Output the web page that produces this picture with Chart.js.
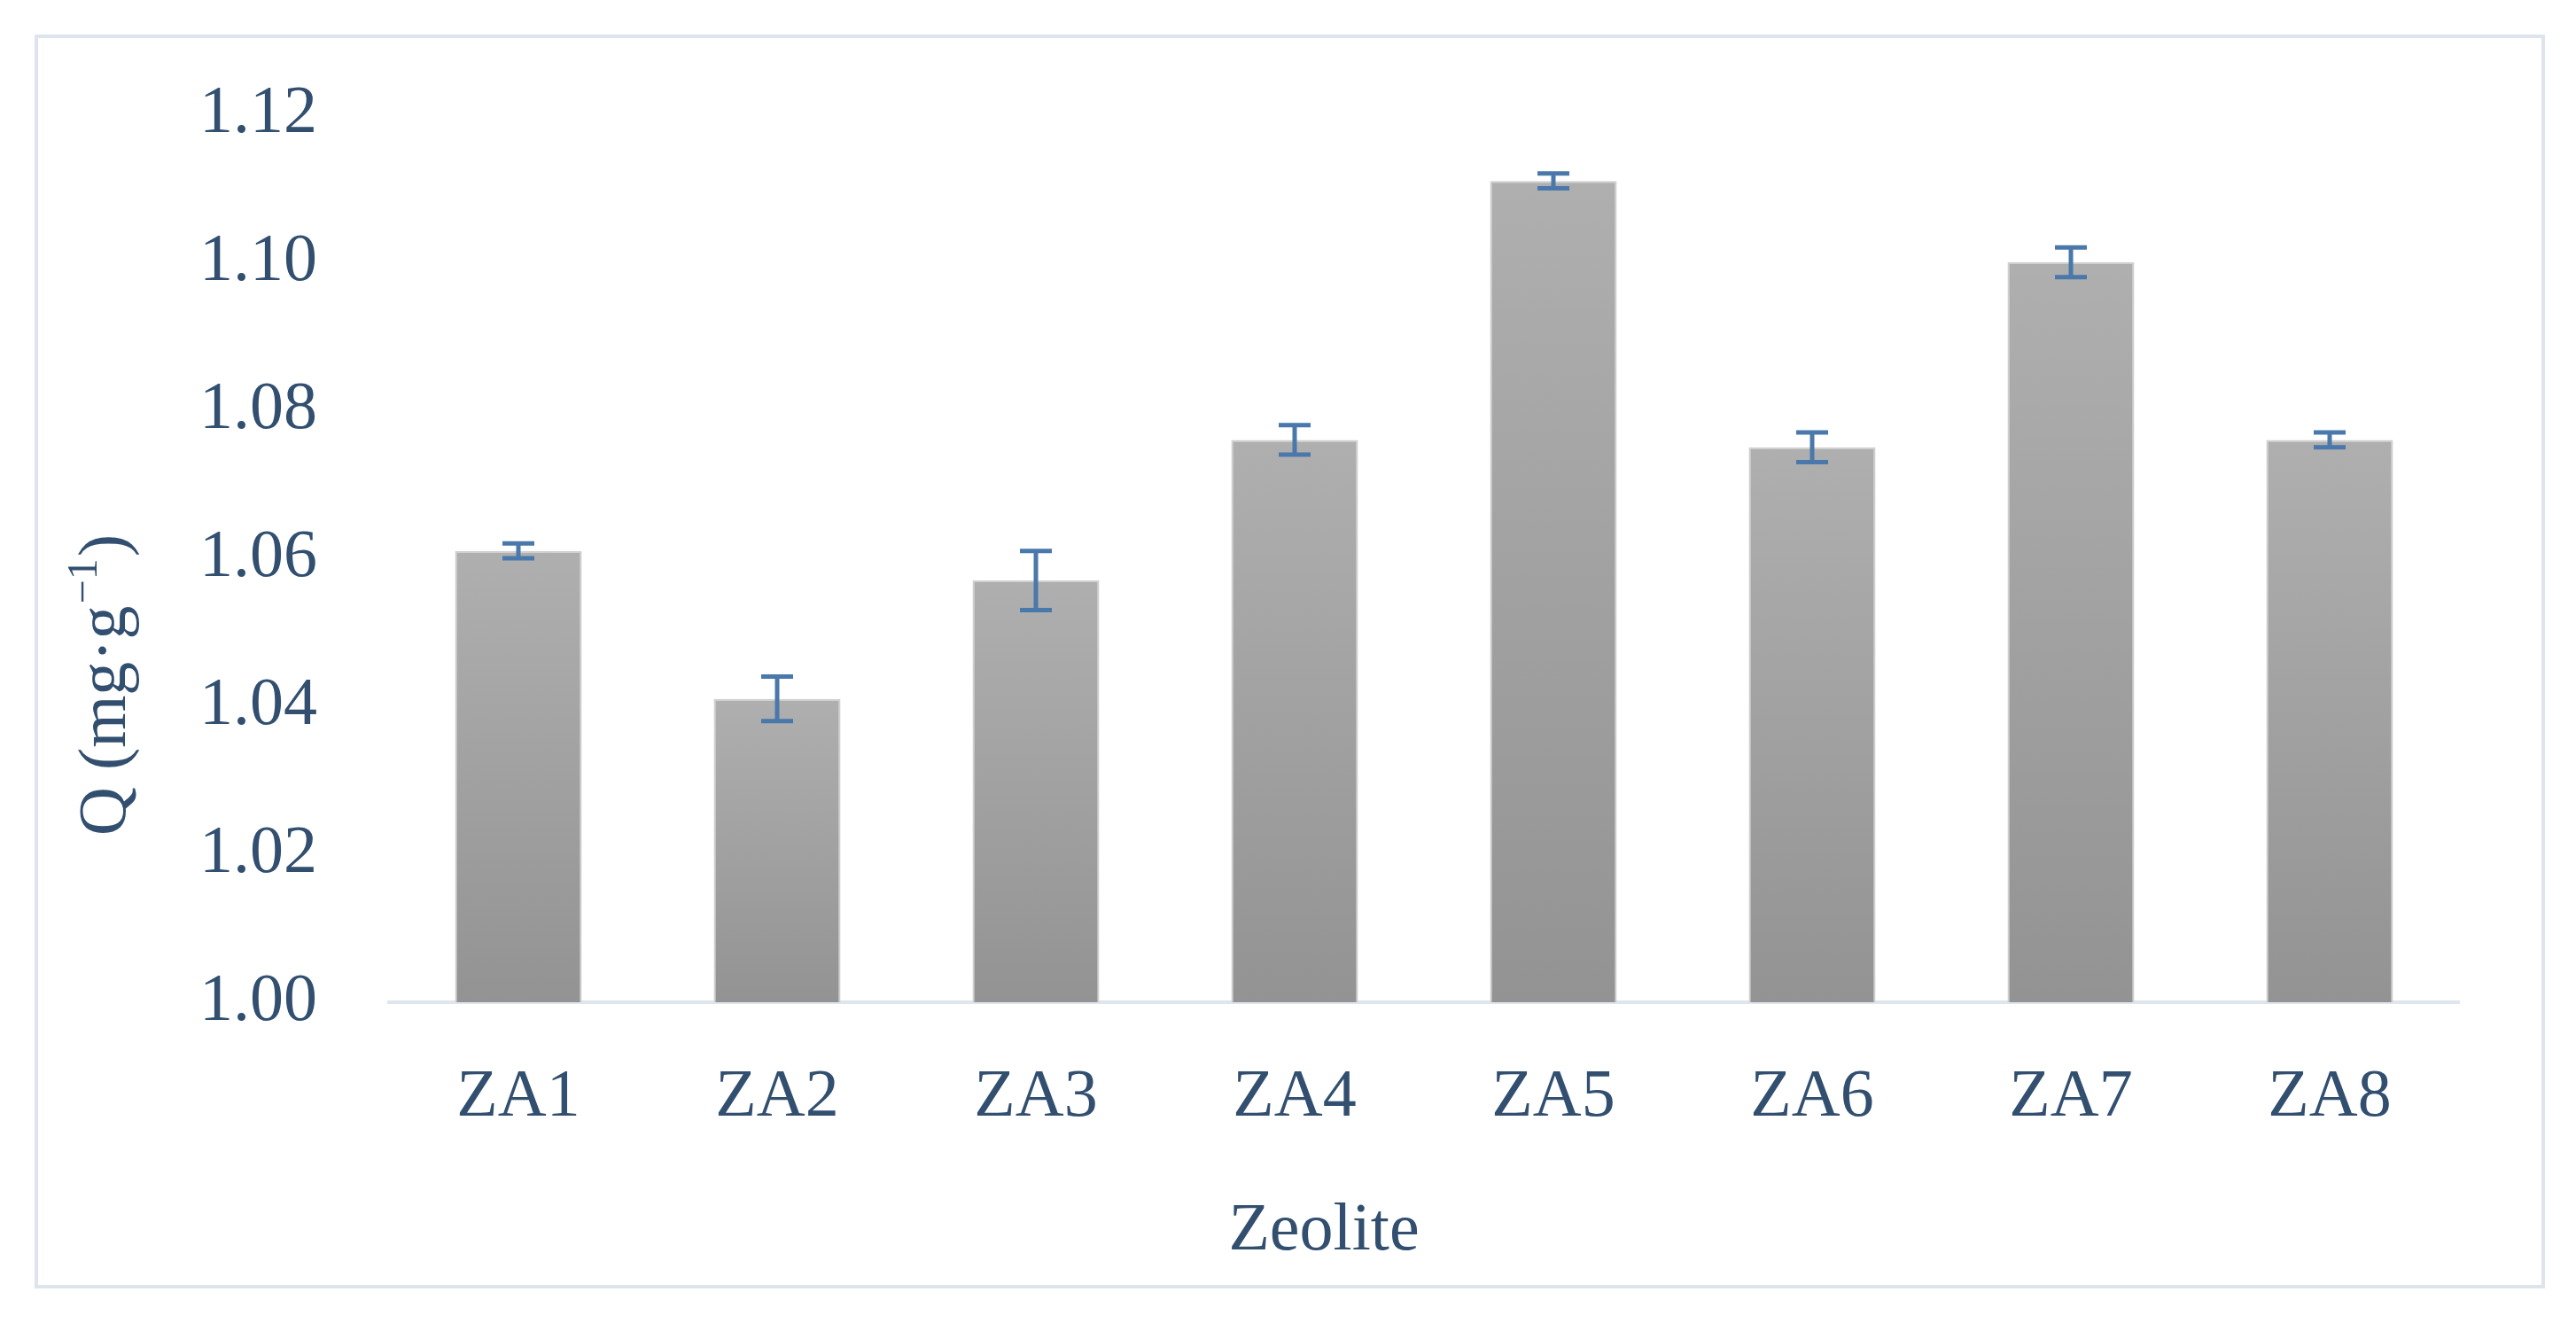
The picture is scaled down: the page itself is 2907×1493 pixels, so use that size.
<!DOCTYPE html>
<html>
<head>
<meta charset="utf-8">
<title>Zeolite Q</title>
<script src="https://cdn.jsdelivr.net/npm/chart.js@4.4.1/dist/chart.umd.min.js"></script>
<style>
	body { margin: 0; background: #ffffff; }
	#mycanvas { display: block; }
</style>
</head>
<body>
<canvas id="mycanvas" width="2907" height="1493"></canvas>
<script>
// data
var zeolites = ['ZA1', 'ZA2', 'ZA3', 'ZA4', 'ZA5', 'ZA6', 'ZA7', 'ZA8'];
var qValues = [1.061, 1.041, 1.057, 1.076, 1.111, 1.075, 1.100, 1.076];
var qErrors = [0.001, 0.003, 0.004, 0.002, 0.001, 0.002, 0.002, 0.001];
var yMin = 1.00;
var yMax = 1.12;
var yStep = 0.02;

var textColor = '#324f70';
var errColor = '#4a78aa';
var fontFamily = '"Liberation Serif", "Times New Roman", serif';

function barFill(context) {
	var chart = context.chart;
	var area = chart.chartArea;
	if (!area || context.type !== 'data') {
		return '#a0a0a0';
	}
	var top = chart.scales.y.getPixelForValue(qValues[context.dataIndex]);
	var g = chart.ctx.createLinearGradient(0, top, 0, area.bottom);
	g.addColorStop(0, '#afafaf');
	g.addColorStop(1, '#939393');
	return g;
}

var frame = {
	id: 'frame',
	beforeDraw: function(chart) {
		var ctx = chart.ctx;
		ctx.save();
		ctx.fillStyle = '#ffffff';
		ctx.fillRect(0, 0, chart.width, chart.height);
		ctx.strokeStyle = '#dde4ec';
		ctx.lineWidth = 4;
		ctx.strokeRect(41, 41, 2829, 1411);
		ctx.restore();
	},
	afterDraw: function(chart) {
		var ctx = chart.ctx;
		ctx.save();
		ctx.fillStyle = textColor;
		ctx.font = '76px ' + fontFamily;
		ctx.textAlign = 'center';
		ctx.textBaseline = 'middle';
		ctx.fillText('Zeolite', 1494, 1390);

		// y title with superscript
		ctx.translate(115, 775);
		ctx.rotate(-Math.PI / 2);
		var a = 'Q (mg\u00b7g';
		var s = '\u22121';
		var b = ')';
		ctx.font = '76px ' + fontFamily;
		var wa = ctx.measureText(a).width;
		var wb = ctx.measureText(b).width;
		ctx.font = '48px ' + fontFamily;
		var ws = ctx.measureText(s).width;
		var x0 = -(wa + ws + wb) / 2;
		ctx.textAlign = 'left';
		ctx.textBaseline = 'alphabetic';
		ctx.font = '76px ' + fontFamily;
		ctx.fillText(a, x0, 26);
		ctx.font = '48px ' + fontFamily;
		ctx.fillText(s, x0 + wa + 2, -6);
		ctx.font = '76px ' + fontFamily;
		ctx.fillText(b, x0 + wa + ws + 4, 26);
		ctx.restore();
	}
};

var errorBars = {
	id: 'errorBars',
	afterDatasetsDraw: function(chart) {
		var ctx = chart.ctx;
		var y = chart.scales.y;
		var meta = chart.getDatasetMeta(0);
		ctx.save();
		ctx.strokeStyle = errColor;
		ctx.lineWidth = 5;
		for (var i = 0; i < meta.data.length; i++) {
			var x = meta.data[i].x;
			var hi = y.getPixelForValue(qValues[i] + qErrors[i]);
			var lo = y.getPixelForValue(qValues[i] - qErrors[i]);
			ctx.beginPath();
			ctx.moveTo(x, hi);
			ctx.lineTo(x, lo);
			ctx.moveTo(x - 18, hi);
			ctx.lineTo(x + 18, hi);
			ctx.moveTo(x - 18, lo);
			ctx.lineTo(x + 18, lo);
			ctx.stroke();
		}
		ctx.restore();
	}
};

var chartdata = {
	labels: zeolites,
	datasets: [
		{
			label: 'Q',
			data: qValues,
			backgroundColor: barFill,
			borderColor: '#cfcfcf',
			borderWidth: 2,
			barPercentage: 0.49,
			categoryPercentage: 1.0
		}
	]
};

var ctx = document.getElementById('mycanvas');

var BarGraph = new Chart(ctx, {
	type: 'bar',
	data: chartdata,
	plugins: [frame, errorBars],
	options: {
		responsive: false,
		animation: false,
		devicePixelRatio: 1,
		layout: {
			padding: { top: 129, right: 132, bottom: 0, left: 0 }
		},
		plugins: {
			legend: { display: false },
			tooltip: { enabled: false }
		},
		scales: {
			x: {
				grid: { display: false, drawTicks: false },
				border: { display: true, color: '#dfe5ec', width: 4 },
				ticks: {
					color: textColor,
					font: { family: fontFamily, size: 76 },
					padding: 62
				},
				afterFit: function(scale) {
					scale.height = 362;
				}
			},
			y: {
				min: yMin,
				max: yMax,
				grid: { display: false, drawTicks: false },
				border: { display: false },
				ticks: {
					stepSize: yStep,
					color: textColor,
					font: { family: fontFamily, size: 76 },
					padding: 81,
					callback: function(value) {
						return value.toFixed(2);
					}
				},
				afterFit: function(scale) {
					scale.width = 439;
				}
			}
		}
	}
});
</script>
</body>
</html>
